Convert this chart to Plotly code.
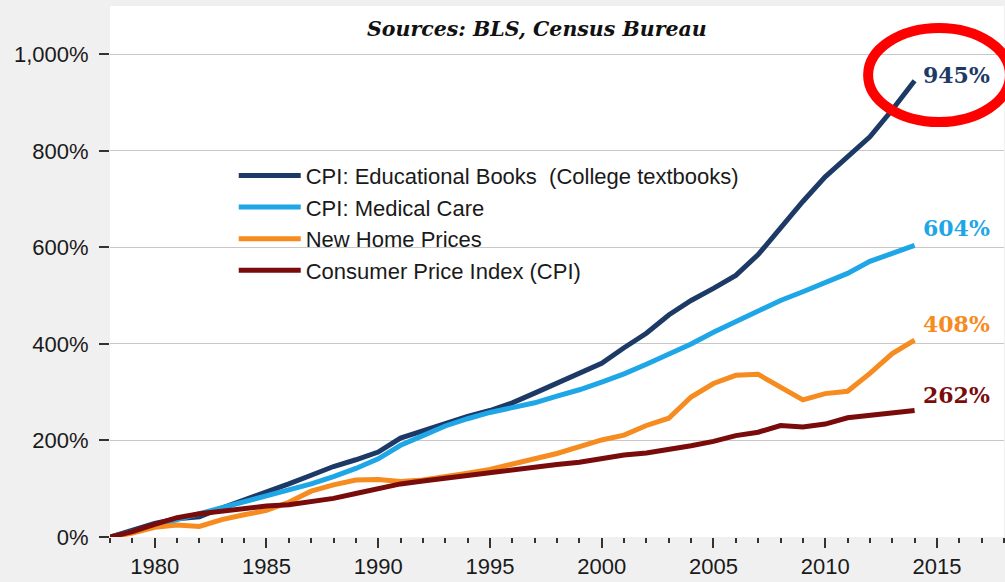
import plotly.graph_objects as go

years = list(range(1978, 2015))

books = [0, 15, 28, 38, 42, 60, 76, 92, 110, 128, 146, 160, 176, 205, 220, 237, 250,
         262, 278, 298, 318, 338, 360, 392, 422, 460, 490, 515, 542, 585, 642, 695,
         746, 786, 829, 885, 945]
medical = [0, 10, 22, 36, 48, 62, 73, 84, 96, 110, 125, 142, 162, 190, 210, 230, 245,
           258, 268, 278, 292, 305, 321, 338, 358, 378, 400, 424, 446, 470, 490, 508,
           527, 546, 571, 588, 604]
homes = [0, 8, 20, 25, 22, 36, 46, 55, 72, 95, 108, 118, 119, 115, 118, 124, 132,
         140, 152, 162, 173, 188, 201, 211, 231, 246, 290, 318, 335, 337, 310, 284,
         297, 302, 339, 380, 408]
cpi = [0, 11, 26, 40, 48, 54, 59, 64, 67, 73, 80, 90, 101, 110, 116, 122, 127,
       133, 140, 145, 150, 155, 162, 170, 174, 181, 189, 198, 210, 217, 231, 228,
       234, 247, 252, 257, 262]

names = ["CPI: Educational Books\u00a0 (College textbooks)", "CPI: Medical Care",
         "New Home Prices", "Consumer Price Index (CPI)"]
colors = ["#1d3a66", "#1ea6e6", "#f68b1f", "#7a0b0b"]
series = [books, medical, homes, cpi]
end_labels = ["945%", "604%", "408%", "262%"]
label_shift = [6, 17, 16, 16]

y_ticks = [0, 200, 400, 600, 800, 1000]
y_tick_text = ["0%", "200%", "400%", "600%", "800%", "1,000%"]

fig = go.Figure()
for name, vals, col in zip(names, series, colors):
    fig.add_trace(go.Scatter(x=years, y=vals, name=name, mode="lines",
                             line=dict(color=col, width=5)))

for vals, col, lab, sh in zip(series, colors, end_labels, label_shift):
    fig.add_annotation(x=years[-1], y=vals[-1], text="<b>%s</b>" % lab,
                       showarrow=False, xanchor="left", yanchor="middle",
                       xshift=6, yshift=sh,
                       font=dict(family="DejaVu Serif", size=22, color=col))

fig.add_annotation(xref="paper", yref="paper", x=0.4776, y=0.957,
                   text="<b><i>Sources: BLS, Census Bureau</i></b>", showarrow=False,
                   xanchor="center", yanchor="middle",
                   font=dict(family="DejaVu Serif", size=20.5, color="#111111"))

fig.add_shape(type="circle", xref="paper", yref="paper",
              x0=0.848, x1=1.0067, y0=0.7815, y1=0.9586,
              line=dict(color="#ff0000", width=10))

fig.update_layout(
    width=1005, height=582,
    margin=dict(l=110, r=1, t=6, b=45, autoexpand=False),
    paper_bgcolor="#f0f0f0", plot_bgcolor="#ffffff",
    showlegend=True,
    legend=dict(x=0.1384, y=0.72, xanchor="left", yanchor="top",
                bgcolor="rgba(0,0,0,0)", itemwidth=62,
                font=dict(family="Liberation Sans, Arial", size=22, color="#1a1a1a"),
                tracegroupgap=0),
    font=dict(family="Liberation Sans, Arial", size=22, color="#1a1a1a"),
)
fig.update_xaxes(range=[1978, 2018], tick0=1980, dtick=5, ticks="outside", ticklen=10,
                 tickwidth=1.5, tickcolor="#333333", showgrid=False, zeroline=False,
                 showline=False, automargin=False,
                 minor=dict(dtick=1, tick0=1978, ticks="outside", ticklen=5,
                            tickwidth=1.5, tickcolor="#333333", showgrid=False),
                 tickfont=dict(size=22))
fig.update_yaxes(range=[0, 1100], tickvals=y_ticks, ticktext=y_tick_text,
                 ticks="outside", ticklen=10, tickwidth=1.5, tickcolor="#333333",
                 ticklabelstandoff=6, automargin=False,
                 showgrid=True, gridcolor="#c8c8c8", gridwidth=1, zeroline=False,
                 showline=False, tickfont=dict(size=22))

fig.write_html("out.html", config={"displayModeBar": False},
               post_script="document.body.style.margin='0';"
                           "document.body.style.background='#f0f0f0';")
